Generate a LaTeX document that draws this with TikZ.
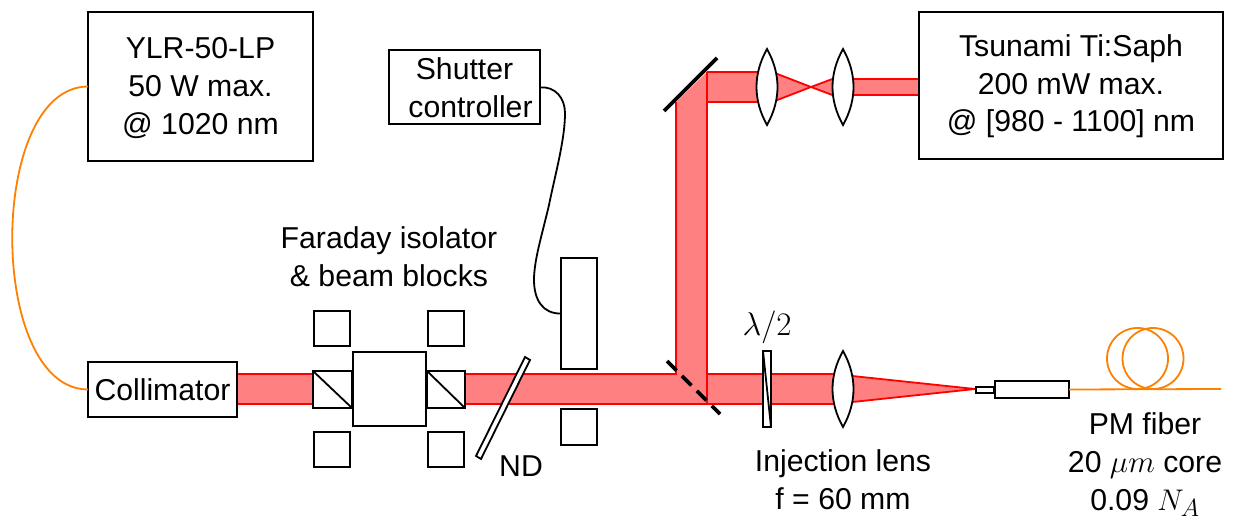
\documentclass[tikz,border=0pt]{standalone}
\usepackage{fontspec}
\setmainfont{Liberation Sans}
\definecolor{beamfill}{HTML}{FF8080}
\definecolor{fiberc}{HTML}{FF8000}
\tikzset{
  box/.style={draw=black,line width=2pt,fill=white,inner sep=0pt,outer sep=0pt,align=center},
  sized/.style 2 args={minimum width=#1,minimum height=#2},
  beam/.style={fill=beamfill,draw=red,line width=1.8pt,line join=miter},
  lens/.style={draw=black,line width=1.8pt,fill=white,line join=miter},
  fiber/.style={draw=fiberc,line width=1.8pt},
  thin line/.style={draw=black,line width=1.8pt},
  lab/.style={inner sep=0pt,align=center,font=\fontsize{30.2}{37.6}\selectfont}
}
\newcommand{\lensat}[2]{\draw[lens] (#1,#2-38) .. controls (#1-14,#2-13) and (#1-14,#2+13) .. (#1,#2+38) .. controls (#1+14,#2+13) and (#1+14,#2-13) .. (#1,#2-38) -- cycle;}
\newcommand{\bigmath}[2]{\scalebox{#1}{$#2$}}
\begin{document}
\begin{tikzpicture}[x=1pt,y=-1pt]
\useasboundingbox (0,0) rectangle (1233,518);
% beams
\fill[beamfill] (238,374) -- (676,374) -- (676,102) -- (707,72) -- (767,72) -- (767,102) -- (707,102) -- (707,374) -- (843,374) -- (843,404) -- (238,404) -- cycle;
\draw[red,line width=1.8pt] (238,374) -- (676,374) -- (676,102);
\draw[red,line width=1.8pt] (238,404) -- (843,404);
\draw[red,line width=1.8pt] (707,72) -- (707,404);
\draw[red,line width=1.8pt] (707,72) -- (767,72);
\draw[red,line width=1.8pt] (707,102) -- (767,102);
\draw[red,line width=1.8pt] (707,374) -- (843,374);
\draw[beam] (767,70) -- (811,87) -- (767,104) -- cycle;
\draw[beam] (843,75) -- (811,87) -- (843,99) -- cycle;
\draw[beam] (843,79) rectangle (919,95);
\draw[beam] (843,375) -- (975,389) -- (843,403) -- cycle;
% top mirror
\coordinate (m1a) at (664,111); \coordinate (m1b) at (717,58);
\draw[line width=3.6pt,black] (m1a) -- (m1b);
% dichroic
\coordinate (m2a) at (667,361); \coordinate (m2b) at (720,414);
\draw[line width=3.6pt,black,dash pattern=on 13.5pt off 7.6pt] (m2a) -- (m2b);
% lenses
\lensat{767}{87}
\lensat{843}{87}
\lensat{843}{389}
% HWP
\node[box,sized={8pt}{76pt}] (hwp) at (767,389) {};
\draw[thin line] (hwp.north west) -- (hwp.south east);
% Faraday
\node[box,sized={73pt}{74pt}] (far) at (389.5,389) {};
\node[box,sized={39pt}{37pt}] (cubeL) at (332.5,389.5) {};
\node[box,sized={38pt}{37pt}] (cubeR) at (446,389.5) {};
\draw[thin line] (cubeL.north west) -- (cubeL.south east);
\draw[thin line] (cubeR.north west) -- (cubeR.south east);
\node[box,sized={36pt}{35pt}] (b1) at (332,328.5) {};
\node[box,sized={36pt}{35pt}] (b2) at (446,328.5) {};
\node[box,sized={36pt}{35pt}] (b3) at (332,449.5) {};
\node[box,sized={36pt}{35pt}] (b4) at (446,449.5) {};
\node[box,sized={36pt}{36pt}] (b5) at (579,427) {};
\node[box,sized={36pt}{111pt}] (shut) at (579,313.5) {};
% ND
\draw[thin line,fill=white] (525,357) -- (530,360) -- (481,459) -- (476,456) -- cycle;
% boxes
\node[box,sized={225pt}{149pt},lab] (ylr) at (200.5,86.5) {\rule{0pt}{24pt}YLR-50-LP\\50 W max.\\@ 1020 nm};
\node[box,sized={304pt}{147pt},lab] (tsu) at (1071,85.5) {\rule{0pt}{24pt}Tsunami Ti:Saph\\200 mW max.\\@ [980 - 1100] nm};
\node[box,sized={151pt}{74pt},lab] (ctrl) at (464.5,87.5) {Shutter\\\hspace*{12pt}controller};
\node[box,sized={149pt}{55pt},lab] (col) at (162.5,389.5) {Collimator};
% connector to fiber
\node[box,sized={74pt}{17pt}] (conn) at (1032,389.5) {};
\node[box,sized={18pt}{6pt}] (tip) at (985,389.5) {};
% fiber
\coordinate (fe) at (1221,389);
\draw[fiber] (conn.east) -- (fe);
\draw[fiber] (1137.5,358.5) circle (30.5);
\draw[fiber] (1153,358.5) circle (30.5);
% cables
\draw[fiber] (ylr.west) .. controls (-13,87) and (-13,389) .. (col.west);
\draw[line width=1.8pt,black] (ctrl.east) .. controls (555,86) and (565,98) .. (565,113) .. controls (565,140) and (555,175) .. (549,205) .. controls (542,235) and (534,260) .. (534,280) .. controls (534,300) and (543,314) .. (shut.west);
% labels
\node[lab] (t1) at (389,257) {Faraday isolator\\\& beam blocks};
\node[lab] (t2) at (521,466) {ND};
\node[lab] (t3) at (767,327) {\bigmath{1.32}{\lambda/2}};
\node[lab] (t4) at (843,480) {Injection lens\\f = 60 mm};
\node[lab] (t5) at (1145,465) {PM fiber\\20 \bigmath{1.25}{\mu m} core\\0.09 \bigmath{1.2}{N_A}};
\end{tikzpicture}
\end{document}
